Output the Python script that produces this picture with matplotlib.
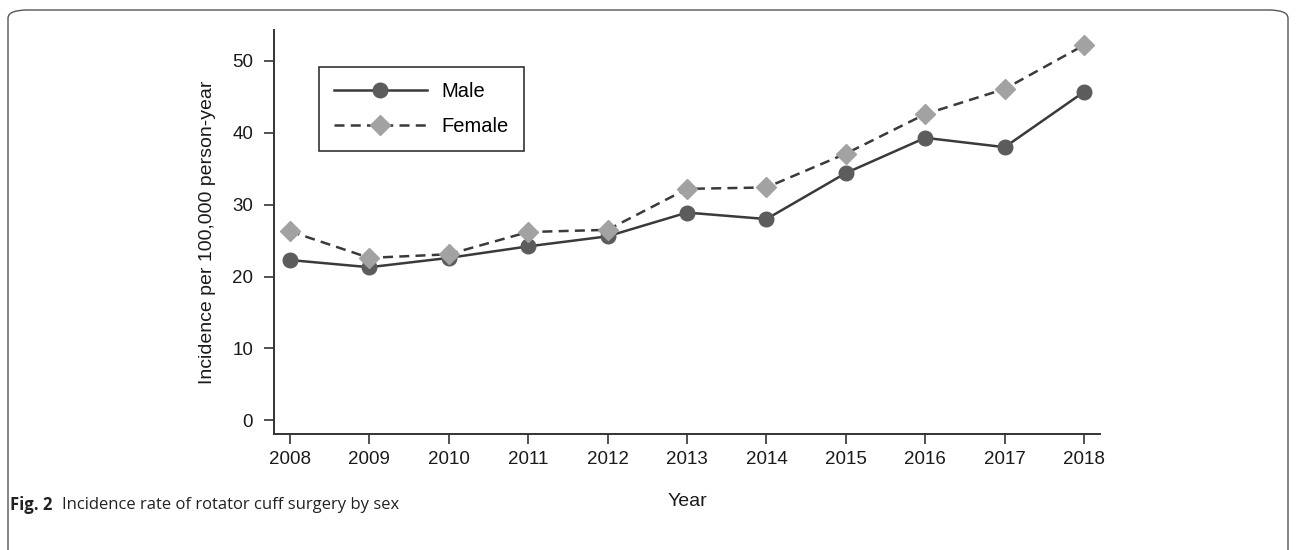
import numpy as np
import matplotlib.pyplot as plt
from matplotlib.patches import FancyBboxPatch

years = [2008, 2009, 2010, 2011, 2012, 2013, 2014, 2015, 2016, 2017, 2018]
male = [22.3, 21.3, 22.6, 24.2, 25.6, 28.9, 28.0, 34.4, 39.3, 38.0, 45.7]
female = [26.3, 22.6, 23.1, 26.2, 26.5, 32.2, 32.4, 37.1, 42.6, 46.1, 52.2]
yTicks = [0, 10, 20, 30, 40, 50]

LINE_COLOR = "#3a3a3a"
plt.rcParams["font.family"] = ["Liberation Sans", "DejaVu Sans"]

fig = plt.figure(figsize=(12.96, 5.5), dpi=100)
ax = fig.add_axes([274 / 1296, 1 - 434 / 550, (1100 - 274) / 1296, (434 - 30) / 550])

ax.plot(
    years, male, color=LINE_COLOR, linewidth=1.8, marker="o", markersize=10.5,
    markerfacecolor="#5c5c5c", markeredgecolor="#5c5c5c", label="Male", zorder=3,
)
ax.plot(
    years, female, color=LINE_COLOR, linewidth=1.8, linestyle=(0, (4, 2.5)),
    marker="D", markersize=10, markerfacecolor="#a2a2a2",
    markeredgecolor="#a2a2a2", label="Female", zorder=4,
)

ax.set_xlim(2007.8, 2018.2)
ax.set_ylim(-1.9, 54.3)
ax.set_xticks(years)
ax.set_yticks(yTicks)
ax.tick_params(direction="out", length=7, width=1.2, color="#333333",
               labelsize=13.5, labelcolor="#1a1a1a")
ax.tick_params(axis="x", pad=5)
ax.tick_params(axis="y", pad=8)
for side in ["top", "right"]:
    ax.spines[side].set_visible(False)
for side in ["left", "bottom"]:
    ax.spines[side].set_linewidth(1.4)
    ax.spines[side].set_color("#333333")

ax.set_xlabel("Year", fontsize=14, color="#1a1a1a", labelpad=18)
ax.set_ylabel("Incidence per 100,000 person-year", fontsize=14,
              color="#1a1a1a", labelpad=12)

leg = ax.legend(
    loc="upper left", bbox_to_anchor=(45 / 826, (434 - 67) / 404), fontsize=14.5,
    handlelength=4.6, handletextpad=0.75, borderpad=0.75, labelspacing=0.8,
    borderaxespad=0, fancybox=False, framealpha=1, edgecolor="#333333",
)
leg.get_frame().set_linewidth(1.2)

# frame around the figure panel
frame = FancyBboxPatch(
    (8 / 1296, -0.05), 1280 / 1296, 1.05 - 10 / 550,
    boxstyle="round,pad=0,rounding_size=0.015", transform=fig.transFigure,
    facecolor="none", edgecolor="#555555", linewidth=1.0,
)
fig.patches.append(frame)

fig.text(10 / 1296, 1 - 505 / 550, "Fig. 2", fontsize=12, fontweight="bold",
         family=["Open Sans", "DejaVu Sans"], va="center", color="#222222")
fig.text(62 / 1296, 1 - 505 / 550, "Incidence rate of rotator cuff surgery by sex",
         fontsize=12, family=["Open Sans", "DejaVu Sans"], va="center",
         color="#222222")

fig.savefig("out.png", dpi=100)
